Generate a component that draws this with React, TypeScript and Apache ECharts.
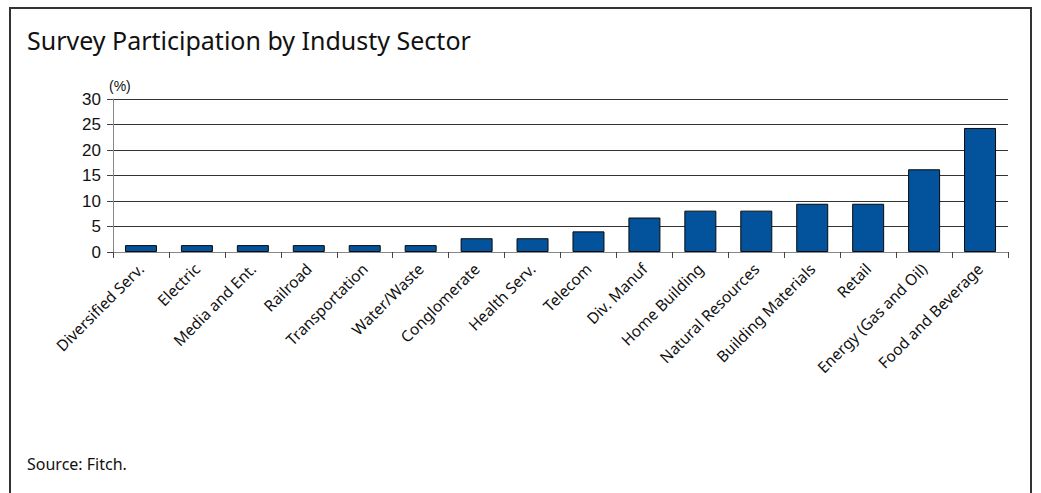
import React, { useEffect, useRef } from "react";
import * as echarts from "echarts";

const categories = [
  "Diversified Serv.",
  "Electric",
  "Media and Ent.",
  "Railroad",
  "Transportation",
  "Water/Waste",
  "Conglomerate",
  "Health Serv.",
  "Telecom",
  "Div. Manuf",
  "Home Building",
  "Natural Resources",
  "Building Materials",
  "Retail",
  "Energy (Gas and Oil)",
  "Food and Beverage",
];

const participation = [
  1.35, 1.35, 1.35, 1.35, 1.35, 1.35, 2.7, 2.7, 4.05, 6.76, 8.11, 8.11, 9.46,
  9.46, 16.22, 24.32,
];

const yTicks = [0, 5, 10, 15, 20, 25, 30];

const FONT = "'Noto Sans', 'Open Sans', sans-serif";

export default function App() {
  const ref = useRef<HTMLDivElement>(null);

  useEffect(() => {
    if (!ref.current) return;
    const chart = echarts.init(ref.current, null, { renderer: "svg" });
    chart.setOption({
      animation: false,
      backgroundColor: "#ffffff",
      graphic: [
        {
          type: "rect",
          shape: { x: 10, y: 8, width: 1021, height: 520 },
          style: { fill: "none", stroke: "#333", lineWidth: 2 },
          silent: true,
        },
        {
          type: "text",
          left: 27,
          top: 27,
          style: {
            text: "Survey Participation by Industy Sector",
            font: "25px " + FONT,
            fill: "#111",
          },
        },
        {
          type: "text",
          left: 109,
          top: 79,
          style: {
            text: "(%)",
            font: "14px 'Liberation Sans', Arial, sans-serif",
            fill: "#111",
          },
        },
        {
          type: "text",
          left: 27,
          top: 456,
          style: {
            text: "Source: Fitch.",
            font: "16px " + FONT,
            fill: "#111",
          },
        },
      ],
      grid: {
        left: 113,
        right: 33,
        top: 99,
        bottom: 241,
        containLabel: false,
      },
      xAxis: {
        type: "category",
        data: categories,
        boundaryGap: true,
        axisLine: { show: true, lineStyle: { color: "#888", width: 1 } },
        axisTick: {
          show: true,
          alignWithLabel: false,
          length: 6,
          lineStyle: { color: "#444" },
        },
        axisLabel: {
          rotate: 45,
          interval: 0,
          margin: 14,
          fontFamily: FONT,
          fontSize: 15.5,
          color: "#111",
        },
      },
      yAxis: {
        type: "value",
        min: yTicks[0],
        max: yTicks[yTicks.length - 1],
        interval: 5,
        axisLine: { show: true, lineStyle: { color: "#888", width: 1 } },
        axisTick: { show: true, length: 6, lineStyle: { color: "#444" } },
        axisLabel: {
          fontFamily: "'Liberation Sans', Arial, sans-serif",
          fontSize: 17,
          color: "#111",
          margin: 12,
        },
        splitLine: { show: true, lineStyle: { color: "#333", width: 1 } },
      },
      series: [
        {
          type: "bar",
          data: participation,
          barWidth: 32,
          itemStyle: {
            color: "#03529C",
            borderColor: "#0a0a0a",
            borderWidth: 1,
          },
        },
      ],
    });
    return () => chart.dispose();
  }, []);

  return (
    <div
      ref={ref}
      style={{
        position: "fixed",
        left: 0,
        top: 0,
        width: 1041,
        height: 493,
      }}
    />
  );
}
